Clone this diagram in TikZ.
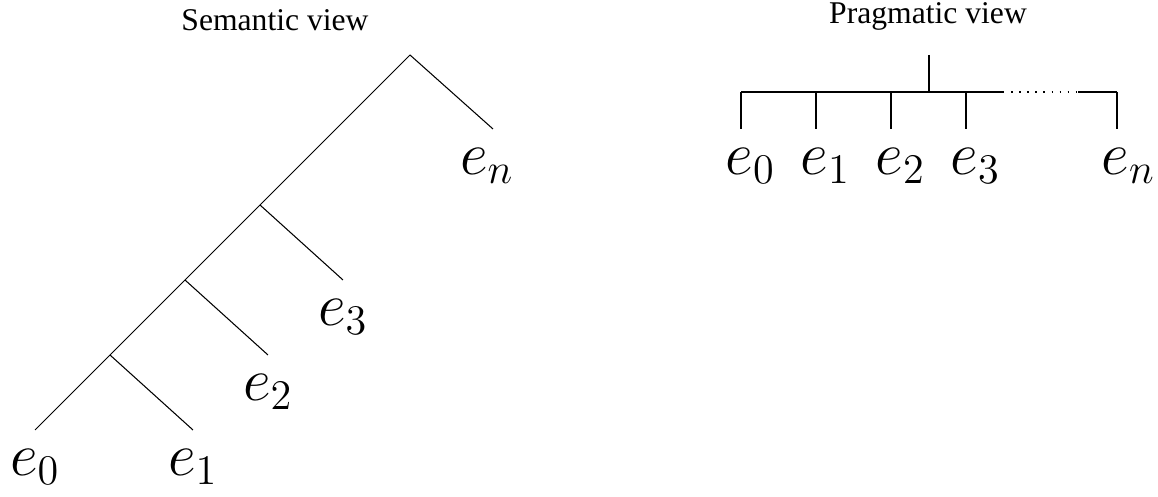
\documentclass[tikz,border=0pt]{standalone}
\usepackage{amsmath}
\usepackage{fontspec}
\setmainfont{Liberation Serif}
\usetikzlibrary{positioning}

\begin{document}
\begin{tikzpicture}[line width=0.3pt,
  leaf/.style={inner sep=0pt,font=\fontsize{18.3}{22}\selectfont},
  viewtitle/.style={inner sep=0pt,anchor=base,font=\fontsize{9}{11}\selectfont},
  gapline/.style={dash pattern=on 0.4pt off 1.9pt}]
\useasboundingbox (0,0) rectangle (11.58,4.97);
\node[viewtitle] (stitle) at (2.75,4.66) {Semantic view};
\node[viewtitle] (ptitle) at (9.28,4.73) {Pragmatic view};
% semantic view
\coordinate (sr) at (4.10,4.42);
\coordinate (sb3) at (2.60,2.92);
\coordinate (sb2) at (1.85,2.17);
\coordinate (sb1) at (1.10,1.42);
\coordinate (st0) at (0.35,0.67);
\coordinate (st1) at (1.93,0.67);
\coordinate (st2) at (2.68,1.42);
\coordinate (st3) at (3.43,2.17);
\coordinate (stn) at (4.93,3.68);
\draw (sr)--(st0);
\draw (sr)--(stn);
\draw (sb3)--(st3);
\draw (sb2)--(st2);
\draw (sb1)--(st1);
\node[leaf,below=1.9mm of st0] (se0) {$e_0$};
\node[leaf,below=1.9mm of st1] (se1) {$e_1$};
\node[leaf,below=1.9mm of st2] (se2) {$e_2$};
\node[leaf,below=1.9mm of st3] (se3) {$e_3$};
\node[leaf,below left=1.9mm and 0.6mm of stn,anchor=north] (sen) {$e_n$};
% pragmatic view
\coordinate (pr) at (9.29,4.42);
\coordinate (pj) at (9.29,4.05);
\coordinate (pk0) at (7.41,4.05);
\coordinate (pk1) at (8.16,4.05);
\coordinate (pk2) at (8.91,4.05);
\coordinate (pk3) at (9.66,4.05);
\coordinate (pkn) at (11.17,4.05);
\coordinate (pd1) at (10.03,4.05);
\coordinate (pd2) at (10.78,4.05);
\coordinate (pt0) at (7.41,3.68);
\coordinate (pt1) at (8.16,3.68);
\coordinate (pt2) at (8.91,3.68);
\coordinate (pt3) at (9.66,3.68);
\coordinate (ptn) at (11.17,3.68);
\draw (pr)--(pj);
\draw (pk0)--(pd1);
\draw[gapline] (pd1)--(pd2);
\draw (pd2)--(pkn);
\draw (pk0)--(pt0);
\draw (pk1)--(pt1);
\draw (pk2)--(pt2);
\draw (pk3)--(pt3);
\draw (pkn)--(ptn);
\node[leaf,below right=1.9mm and -1.6mm of pt0] (pe0) {$e_0$};
\node[leaf,below right=1.9mm and -1.6mm of pt1] (pe1) {$e_1$};
\node[leaf,below right=1.9mm and -1.6mm of pt2] (pe2) {$e_2$};
\node[leaf,below right=1.9mm and -1.6mm of pt3] (pe3) {$e_3$};
\node[leaf,below right=1.9mm and -1.6mm of ptn] (pen) {$e_n$};
\end{tikzpicture}
\end{document}
